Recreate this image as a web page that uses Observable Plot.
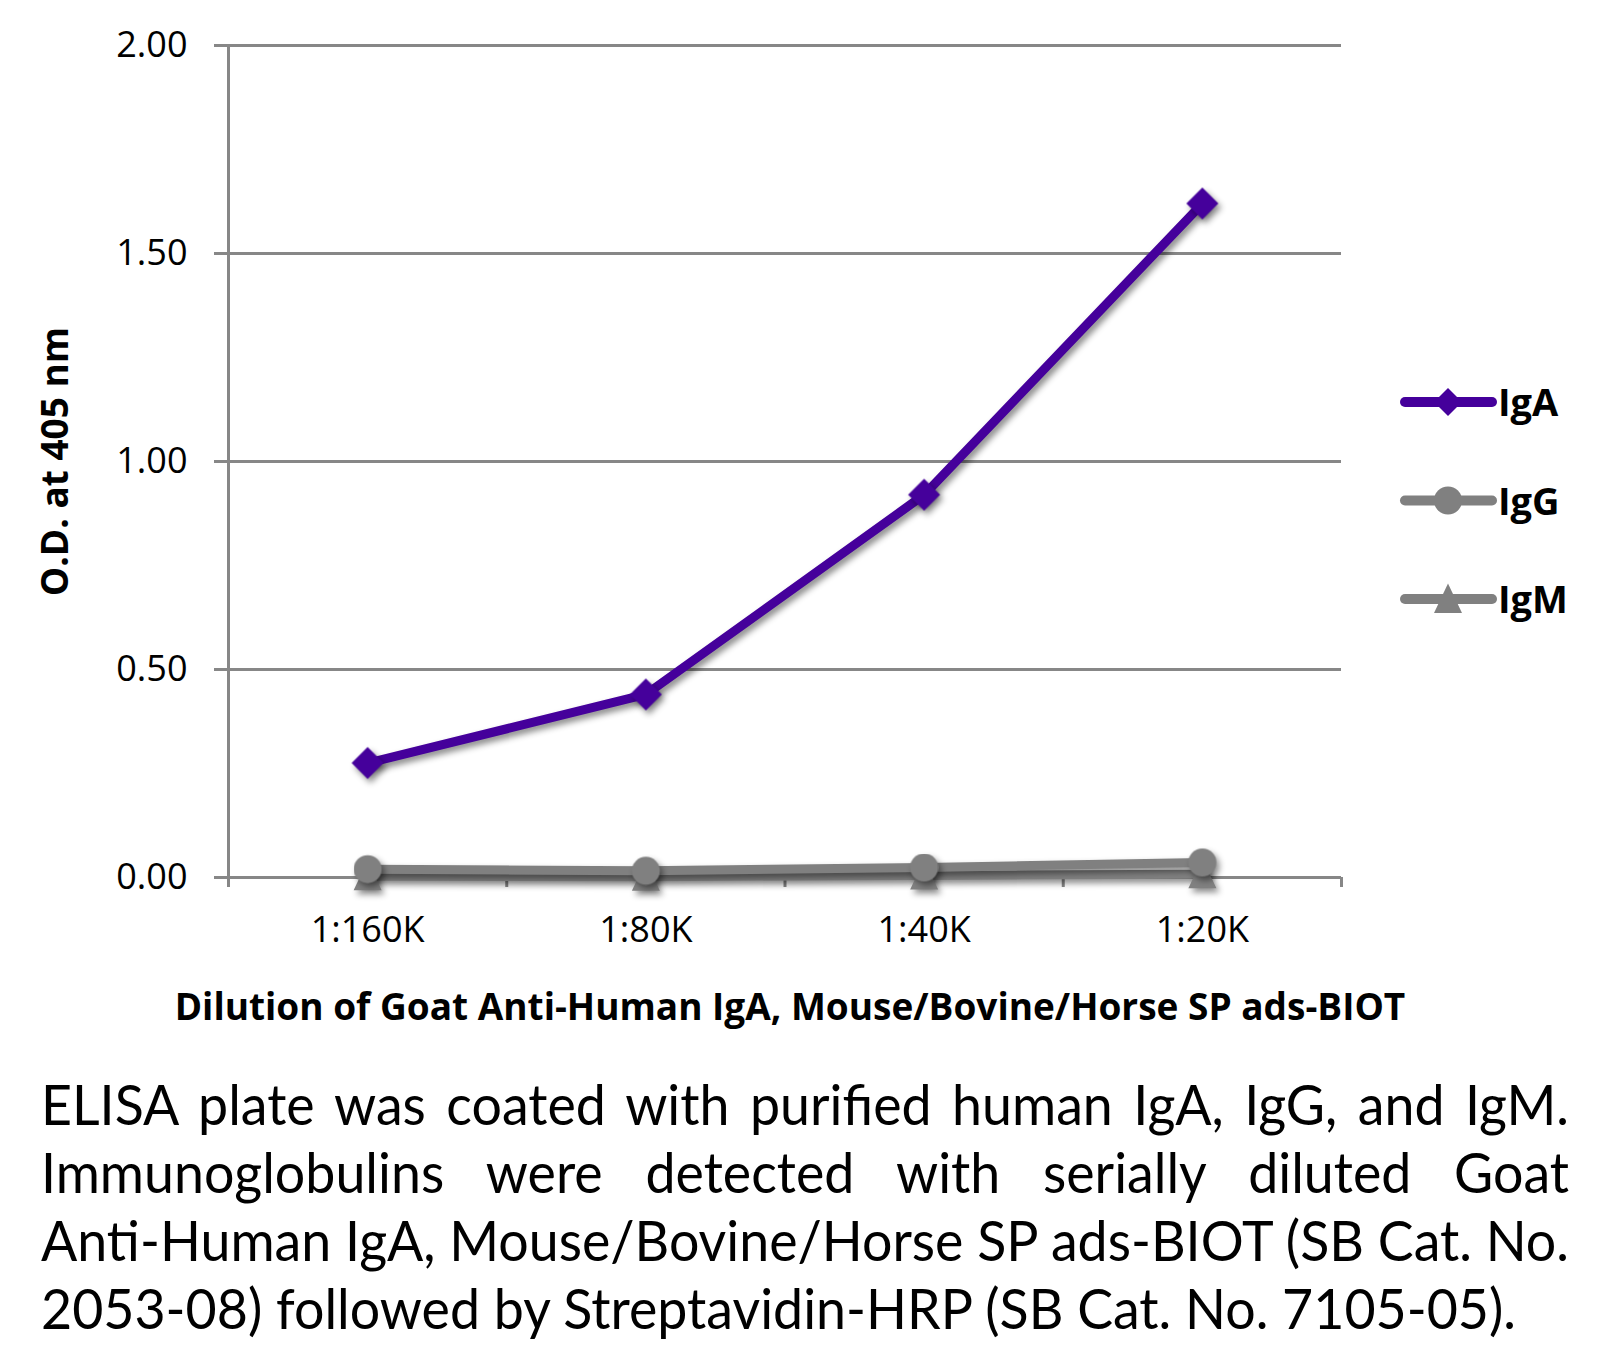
<!DOCTYPE html>
<html><head><meta charset="utf-8">
<script src="https://cdn.jsdelivr.net/npm/d3@7"></script>
<script src="https://cdn.jsdelivr.net/npm/@observablehq/plot@0.6"></script>
<style>
body{margin:0;background:#fff;font-family:"Open Sans",sans-serif;}
#page{position:relative;width:1608px;height:1348px;overflow:hidden;background:#fff;}
#chart svg g[aria-label^="x-axis"] line, #chart svg g[aria-label^="x-axis"] path,
#chart svg g[aria-label^="y-axis"] line, #chart svg g[aria-label^="y-axis"] path{stroke:#878787 !important;stroke-width:3px !important;}
#chart svg g[aria-label^="y-axis"] text{font-size:36px;font-family:"Open Sans";fill:#000;}
#chart svg g[aria-label="line"], #chart svg g[aria-label="dot"]{filter:drop-shadow(3px 4px 3px rgba(0,0,0,0.45));}
#legend{position:absolute;left:1390px;top:360px;}
#caption{position:absolute;left:41px;top:1070px;width:1528px;}
#captionInner{transform-origin:0 0;}
.cl{white-space:nowrap;font-family:Lato,"Open Sans",sans-serif;font-size:56px;line-height:68px;color:#000;}
.j{text-align:justify;text-align-last:justify;}
</style>
</head><body>
<div id="page">
  <div id="chart"></div>
  <div id="legend"></div>
  <div id="caption"><div id="captionInner"></div></div>
</div>
<script>
// ---- data ----
const categories = ["1:160K", "1:80K", "1:40K", "1:20K"];
const seriesNames = ["IgA", "IgG", "IgM"];
const igA = [0.275, 0.44, 0.92, 1.62];
const igG = [0.02, 0.016, 0.024, 0.036];
const igM = [0.003, 0.002, 0.005, 0.008];
const yTicks = [0, 0.5, 1, 1.5, 2];
const seriesColors = ["#45009b", "#808080", "#808080"];
const yTitle = "O.D. at 405 nm";
const xTitle = "Dilution of Goat Anti-Human IgA, Mouse/Bovine/Horse SP ads-BIOT";
const captionLines = [
  "ELISA plate was coated with purified human IgA, IgG, and IgM.",
  "Immunoglobulins were detected with serially diluted Goat",
  "Anti-Human IgA, Mouse/Bovine/Horse SP ads-BIOT (SB Cat. No.",
  "2053-08) followed by Streptavidin-HRP (SB Cat. No. 7105-05)."
];

// ---- symbols ----
const diamondSym = {draw(ctx, size){const r=Math.sqrt(size/Math.PI);ctx.moveTo(0,-r);ctx.lineTo(r,0);ctx.lineTo(0,r);ctx.lineTo(-r,0);ctx.closePath();}};
const circleSym = {draw(ctx, size){const r=Math.sqrt(size/Math.PI);ctx.moveTo(r,0);ctx.arc(0,0,r,0,2*Math.PI);ctx.closePath();}};
const triSym = {draw(ctx, size){const r=Math.sqrt(size/Math.PI);ctx.moveTo(0,-r*1.1);ctx.lineTo(r,r);ctx.lineTo(-r,r);ctx.closePath();}};
const symbols = {IgA: diamondSym, IgG: circleSym, IgM: triSym};
const radii = {IgA: 16, IgG: 14, IgM: 14};
const values = {IgA: igA, IgG: igG, IgM: igM};
const colorOf = Object.fromEntries(seriesNames.map((s,i)=>[s, seriesColors[i]]));

const rows = [];
seriesNames.forEach(s => categories.forEach((c, ci) => rows.push({series: s, cat: c, pos: ci + 0.5, value: values[s][ci]})));

const marks = [
  Plot.ruleY(yTicks, {stroke: "#878787", strokeWidth: 3}),
  Plot.ruleX([0], {stroke: "#878787", strokeWidth: 3})
];
for (const s of ["IgM", "IgG", "IgA"]) {
  const d = rows.filter(r => r.series === s);
  marks.push(Plot.line(d, {x: "pos", y: "value", stroke: colorOf[s], strokeWidth: 9, strokeLinejoin: "round", strokeLinecap: "round"}));
  marks.push(Plot.dot(d, {x: "pos", y: "value", symbol: symbols[s], r: radii[s], fill: colorOf[s], stroke: "none"}));
}
marks.push(Plot.text(categories, {x: (d, i) => i + 0.5, text: d => d, frameAnchor: "bottom", dy: 53, fontSize: 36, lineAnchor: "middle", textAnchor: "middle", fill: "#000"}));
marks.push(Plot.text([yTitle], {frameAnchor: "left", dx: -172, rotate: -90, text: d => d, fontSize: 37, fontWeight: "bold", textAnchor: "middle", lineAnchor: "middle", fill: "#000"}));
marks.push(Plot.text([xTitle], {frameAnchor: "bottom", dx: 5, dy: 131, text: d => d, fontSize: 37, fontWeight: "bold", textAnchor: "middle", lineAnchor: "middle", fill: "#000"}));

const chart = Plot.plot({
  width: 1608,
  height: 1040,
  marginLeft: 228,
  marginRight: 267,
  marginTop: 45,
  marginBottom: 163,
  style: {fontFamily: "Open Sans", fontSize: "36px", color: "#000", background: "white", overflow: "visible"},
  x: {domain: [0, categories.length], ticks: d3.range(categories.length + 1), tickFormat: () => "", tickSize: 10, label: null},
  y: {domain: [0, 2], ticks: yTicks, tickFormat: d => d.toFixed(2), tickSize: 14, tickPadding: 27, label: null},
  marks
});
document.getElementById("chart").appendChild(chart);

// ---- legend ----
const lg = d3.select("#legend").append("svg").attr("width", 218).attr("height", 280);
seriesNames.forEach((s, i) => {
  const y = 42 + i * 98.5;
  const g = lg.append("g");
  g.append("line").attr("x1", 15).attr("x2", 102).attr("y1", y).attr("y2", y)
    .attr("stroke", colorOf[s]).attr("stroke-width", 10).attr("stroke-linecap", "round");
  g.append("path").attr("d", d3.symbol(symbols[s], Math.PI * 14 * 14)()).attr("transform", `translate(58,${y})`).attr("fill", colorOf[s]);
  g.append("text").attr("x", 108).attr("y", y + 14).text(s)
    .attr("font-family", "Open Sans").attr("font-weight", "bold").attr("font-size", 38).attr("fill", "#000");
});

// ---- caption ----
const inner = document.getElementById("captionInner");
const W = 1528;
const meas = document.createElement("span");
meas.className = "cl";
meas.style.position = "absolute"; meas.style.visibility = "hidden";
document.body.appendChild(meas);
let maxW = 0;
captionLines.slice(0, 3).forEach(t => { meas.textContent = t; maxW = Math.max(maxW, meas.getBoundingClientRect().width); });
meas.remove();
const s = Math.min(1, W / maxW);
inner.style.width = (W / s) + "px";
inner.style.transform = `scaleX(${s})`;
captionLines.forEach((t, i) => {
  const div = document.createElement("div");
  div.className = "cl" + (i < captionLines.length - 1 ? " j" : "");
  div.textContent = t;
  inner.appendChild(div);
});
</script>
</body></html>
